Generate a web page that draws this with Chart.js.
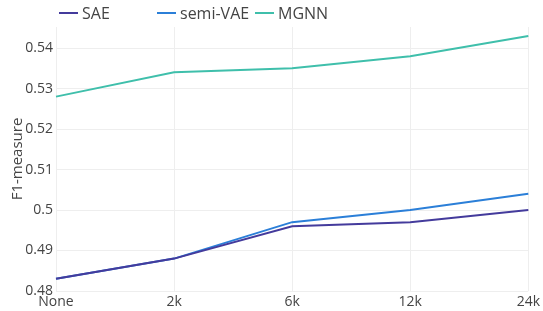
<!DOCTYPE html>
<html>
<head>
<meta charset="utf-8">
<script src="https://cdn.jsdelivr.net/npm/chart.js@4"></script>
<style>
  html, body { margin: 0; padding: 0; background: #fff; }
  #wrap { position: relative; width: 543px; height: 311px; }
  #legend { position: absolute; top: 0; left: 59px; height: 26px; display: flex; font-family: "Open Sans", sans-serif; font-size: 16px; color: #444; }
  #legend .item { width: 98px; display: flex; align-items: center; white-space: nowrap; }
  #legend .swatch { width: 19px; height: 2px; margin-right: 4px; }
</style>
</head>
<body>
<div id="wrap">
  <div id="legend"></div>
  <canvas id="chart" width="543" height="311"></canvas>
</div>
<script>
const categories = ["None", "2k", "6k", "12k", "24k"];
const seriesNames = ["SAE", "semi-VAE", "MGNN"];
const sae = [0.483, 0.488, 0.496, 0.497, 0.500];
const semiVae = [0.483, 0.488, 0.497, 0.500, 0.504];
const mgnn = [0.528, 0.534, 0.535, 0.538, 0.543];
const yTicks = [0.48, 0.49, 0.5, 0.51, 0.52, 0.53, 0.54];
const colors = ["#443b9c", "#2b7fd8", "#3fbfab"];

(() => {
  const values = [sae, semiVae, mgnn];

  // legend built by hand so the items get equal widths like the original
  const legend = document.querySelector("#legend");
  seriesNames.forEach((name, i) => {
    const item = document.createElement("div");
    item.className = "item";
    const sw = document.createElement("span");
    sw.className = "swatch";
    sw.style.background = colors[i];
    const txt = document.createElement("span");
    txt.textContent = name;
    item.appendChild(sw);
    item.appendChild(txt);
    legend.appendChild(item);
  });

  const data = {
    labels: categories,
    datasets: seriesNames.map((name, i) => ({
      label: name,
      data: values[i],
      borderColor: colors[i],
      backgroundColor: colors[i],
      borderWidth: 2,
      pointRadius: 0,
      tension: 0,
      fill: false,
    })),
  };

  const font = { family: "'Open Sans', sans-serif", size: 14 };

  new Chart(document.getElementById("chart"), {
    type: "line",
    data: data,
    options: {
      responsive: false,
      animation: false,
      layout: { padding: { top: 27, right: 13, left: 0, bottom: 0 } },
      plugins: {
        legend: { display: false },
        tooltip: { enabled: false },
      },
      scales: {
        x: {
          offset: false,
          grid: { color: "#eeeeee", drawTicks: false },
          border: { display: false },
          ticks: { color: "#444", font: font, padding: 3, maxRotation: 0 },
          afterFit: (scale) => { scale.height = 20; },
        },
        y: {
          min: 0.48,
          max: 0.5452,
          grid: { color: "#eeeeee", drawTicks: false },
          border: { display: false },
          afterBuildTicks: (scale) => {
            scale.ticks = yTicks.map((v) => ({ value: v }));
          },
          ticks: {
            color: "#444",
            font: font,
            padding: 3,
            callback: (v) => +v.toFixed(2),
          },
          title: {
            display: true,
            text: "F1-measure",
            color: "#444",
            font: { family: "'Open Sans', sans-serif", size: 15 },
            padding: { top: 9, bottom: 0 },
          },
          afterFit: (scale) => { scale.width = 56; },
        },
      },
    },
  });
})();
</script>
</body>
</html>
